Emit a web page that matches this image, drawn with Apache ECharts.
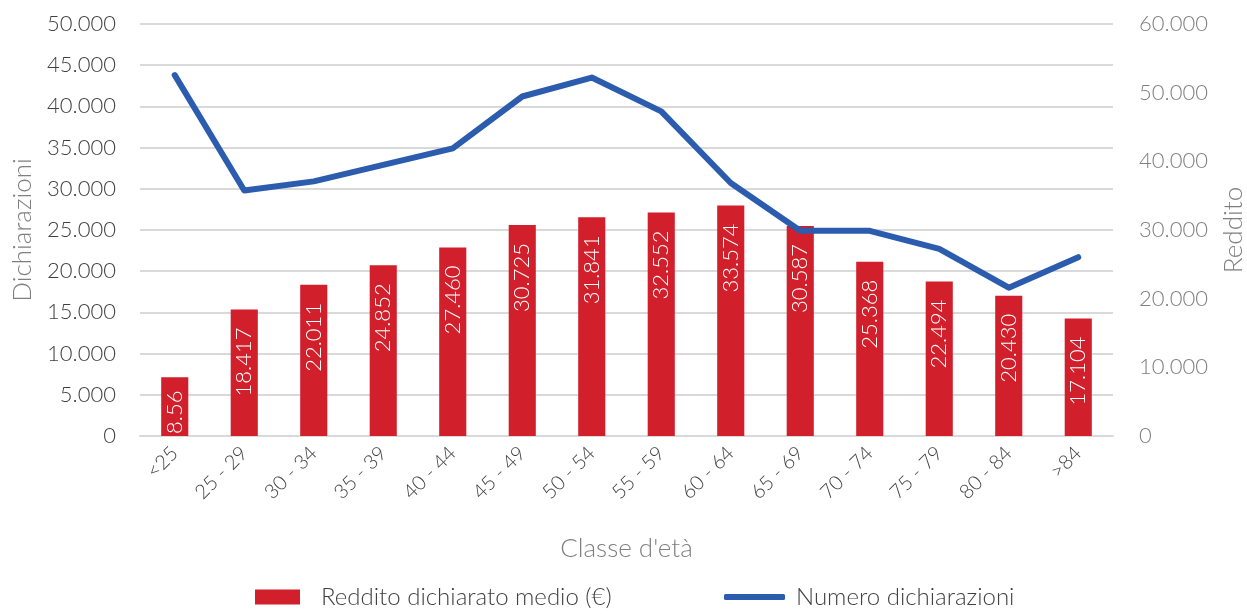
<!DOCTYPE html>
<html>
<head>
<meta charset="utf-8">
<script src="https://cdn.jsdelivr.net/npm/echarts@6/dist/echarts.min.js"></script>
<style>
  html, body { margin: 0; padding: 0; background: #ffffff; }
  #chart { width: 1247px; height: 614px; }
</style>
</head>
<body>
<div id="chart"></div>
<script>
const categories = ["<25", "25 - 29", "30 - 34", "35 - 39", "40 - 44", "45 - 49", "50 - 54",
  "55 - 59", "60 - 64", "65 - 69", "70 - 74", "75 - 79", "80 - 84", ">84"];
// Reddito dichiarato medio (€) - asse destro
const reddito = [8560, 18417, 22011, 24852, 27460, 30725, 31841, 32552, 33574, 30587, 25368, 22494, 20430, 17104];
// Numero dichiarazioni - asse sinistro
const dichiarazioni = [43800, 29800, 30900, 32900, 34900, 41200, 43500, 39400, 30700, 24900, 24900, 22700, 18000, 21700];

const FONT = "Lato";
const fmt = (v) => String(v).replace(/\B(?=(\d{3})+(?!\d))/g, ".");

const chart = echarts.init(document.getElementById("chart"));
chart.setOption({
  backgroundColor: "#ffffff",
  animation: false,
  textStyle: { fontFamily: FONT, fontWeight: 300 },
  grid: {
    left: 140,
    right: 134,
    top: 24,
    bottom: 178,
    outerBoundsMode: "none",
  },
  legend: [
    {
      bottom: 0,
      left: 250,
      itemWidth: 45,
      itemHeight: 15,
      icon: "rect",
      textStyle: { fontFamily: FONT, fontWeight: 300, fontSize: 24, color: "#404040", padding: [0, 0, 0, 16] },
      data: ["Reddito dichiarato medio (€)"],
    },
    {
      bottom: 0,
      left: 719,
      itemWidth: 61,
      itemHeight: 6,
      icon: "roundRect",
      textStyle: { fontFamily: FONT, fontWeight: 300, fontSize: 24, color: "#404040", padding: [0, 0, 0, 6] },
      data: ["Numero dichiarazioni"],
    },
  ],
  xAxis: {
    type: "category",
    data: categories,
    name: "Classe d'età",
    nameLocation: "middle",
    nameGap: 100,
    nameTextStyle: { fontFamily: FONT, fontWeight: 300, fontSize: 26, color: "#7f7f7f" },
    axisLine: { lineStyle: { color: "#d9d9d9", width: 2 } },
    axisTick: { alignWithLabel: true, length: 6, lineStyle: { color: "#d9d9d9", width: 2 } },
    axisLabel: {
      rotate: 45,
      margin: 14,
      fontFamily: FONT,
      fontWeight: 300,
      fontSize: 20,
      color: "#404040",
    },
  },
  yAxis: [
    {
      type: "value",
      min: 0,
      max: 50000,
      interval: 5000,
      name: "Dichiarazioni",
      nameLocation: "middle",
      nameGap: 104,
      nameTextStyle: { fontFamily: FONT, fontWeight: 300, fontSize: 26, color: "#7f7f7f" },
      axisLine: { show: false },
      axisTick: { show: false },
      axisLabel: {
        margin: 24,
        fontFamily: FONT,
        fontWeight: 300,
        fontSize: 22,
        color: "#404040",
        formatter: fmt,
      },
      splitLine: { lineStyle: { color: "#d9d9d9", width: 2 } },
    },
    {
      type: "value",
      min: 0,
      max: 60000,
      interval: 10000,
      name: "Reddito",
      nameLocation: "middle",
      nameGap: 108,
      nameRotate: 90,
      nameTextStyle: { fontFamily: FONT, fontWeight: 300, fontSize: 26, color: "#7f7f7f" },
      axisLine: { show: false },
      axisTick: { show: false },
      axisLabel: {
        margin: 26,
        fontFamily: FONT,
        fontWeight: 300,
        fontSize: 22,
        color: "#7f7f7f",
        formatter: fmt,
      },
      splitLine: { show: false },
    },
  ],
  series: [
    {
      name: "Reddito dichiarato medio (€)",
      type: "bar",
      yAxisIndex: 1,
      barWidth: "39%",
      itemStyle: { color: "#d11f2b" },
      label: {
        show: true,
        position: "insideTop",
        rotate: 90,
        align: "right",
        verticalAlign: "middle",
        distance: 18,
        fontFamily: FONT,
        fontWeight: 300,
        fontSize: 22,
        color: "#ffffff",
        formatter: (p) => fmt(p.value),
      },
      data: reddito.map((v, i) =>
        i === 0
          ? {
              value: v,
              label: {
                position: "insideBottom",
                align: "left",
                distance: 2,
                width: 56,
                overflow: "truncate",
                ellipsis: "",
              },
            }
          : v
      ),
    },
    {
      name: "Numero dichiarazioni",
      type: "line",
      yAxisIndex: 0,
      symbol: "none",
      z: 5,
      lineStyle: { color: "#2b5cad", width: 6, cap: "round", join: "round" },
      itemStyle: { color: "#2b5cad" },
      data: dichiarazioni,
    },
  ],
});
</script>
</body>
</html>
